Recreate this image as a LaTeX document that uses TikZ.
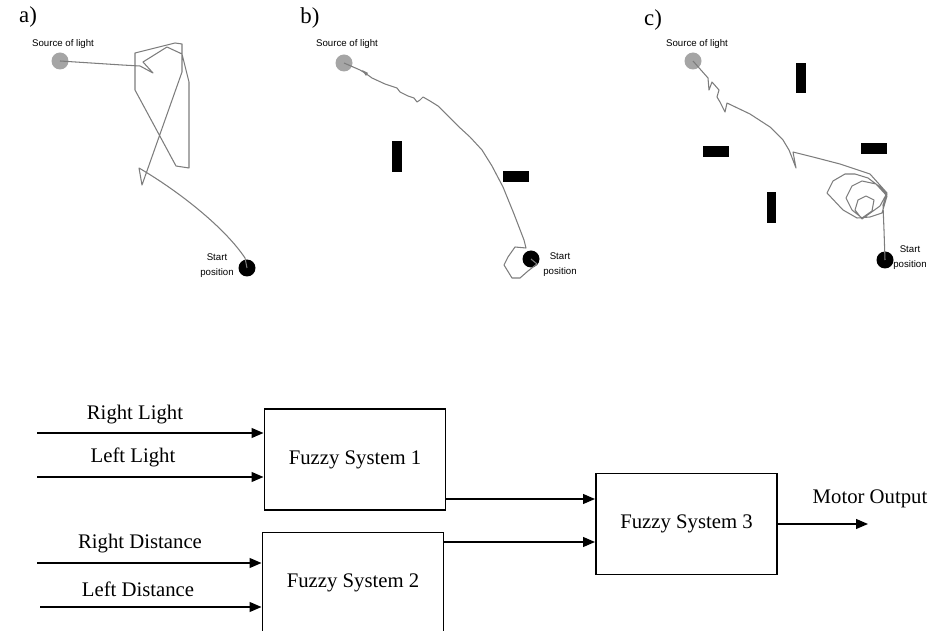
\documentclass[tikz,border=0pt]{standalone}
\usepackage{fontspec}
\setmainfont{Liberation Serif}
\setsansfont{Liberation Sans}
\usetikzlibrary{arrows.meta}
\definecolor{trailgray}{RGB}{125,125,125}
\definecolor{lampgray}{RGB}{165,165,165}

\begin{document}
\begin{tikzpicture}[x=0.02cm,y=-0.02cm,
  box/.style={draw,line width=.85pt,minimum width=3.63cm,minimum height=2.03cm,inner sep=0pt,font=\fontsize{11.8}{14}\selectfont},
  lbl/.style={font=\fontsize{11.8}{14}\selectfont,inner sep=0pt},
  sig/.style={line width=.85pt,-{Triangle[length=6.8pt,width=5.6pt]}},
  tiny/.style={font=\sffamily\fontsize{5.5}{8.5}\selectfont,inner sep=0pt,align=center},
  panel/.style={font=\fontsize{13}{15}\selectfont,inner sep=0pt},
  lamp/.style={circle,fill=lampgray,minimum size=0.34cm,inner sep=0pt},
  robot/.style={circle,fill=black,minimum size=0.34cm,inner sep=0pt},
  trail/.style={draw=trailgray,line width=.6pt,line join=round},
  wall/.style={fill=black}]
\useasboundingbox (0,0) rectangle (944,631);

% a)
\node[panel] (pa) at (28,17) {a)};
\node[lamp] (lampa) at (60,61) {};
\node[tiny] (srca) at (63,44) {Source of light};
\node[robot] (robota) at (247,268) {};
\node[tiny] (starta) at (217,266) {Start\\position};
\draw[trail] (robota.center) -- (245,258) .. controls (225,228) and (180,192) .. (139,168)
  -- (142,185) -- (182,72) -- (182,44) -- (175,43) -- (135,53) -- (135,90) -- (176,166)
  -- (189,168) -- (189,82) -- (182,54) -- (167,47) -- (143,62) -- (153,73) -- (140,66)
  -- (122,65) -- (lampa.center);

% b)
\node[panel] (pb) at (310,18) {b)};
\node[lamp] (lampb) at (344,63) {};
\node[tiny] (srcb) at (347,44) {Source of light};
\node[robot] (robotb) at (531,259) {};
\node[tiny] (startb) at (560,265) {Start\\position};
\fill[wall] (392,141) rectangle (402,172);
\fill[wall] (503,171) rectangle (529,182);
\draw[trail] (robotb.center) -- (537,264) -- (528,271) -- (520,278) -- (512,278) -- (504,265)
  -- (508,257) -- (515,247) -- (526,248) -- (524,240) -- (514,214) -- (503,187) -- (492,166)
  -- (482,150) -- (470,137) -- (458,126) -- (448,116) -- (438,106) -- (430,101) -- (423,97)
  -- (420,100) -- (417,102) -- (414,98) -- (408,96) -- (400,92) -- (397,88) -- (385,84)
  -- (372,78) -- (365,73) -- (360,70) -- (lampb.center);
\fill[trailgray] (362,70) -- (368,73) -- (366,76) -- cycle;

% c)
\node[panel] (pc) at (653,20) {c)};
\node[lamp] (lampc) at (693,61) {};
\node[tiny] (srcc) at (697,44) {Source of light};
\node[robot] (robotc) at (885,260) {};
\node[tiny] (startc) at (910,258) {Start\\position};
\fill[wall] (796,63) rectangle (806,93);
\fill[wall] (703,146) rectangle (729,157);
\fill[wall] (861,143) rectangle (887,154);
\fill[wall] (767,192) rectangle (776,223);
\draw[trail] (robotc.center) -- (884,230) -- (883,205) -- (887,194) -- (880,187) -- (868,178)
  -- (855,174) -- (845,174) -- (833,181) -- (827,193) -- (843,210) -- (857,218) -- (870,217)
  -- (882,213) -- (887,196) -- (876,184) -- (862,181) -- (852,186) -- (846,198) -- (852,210)
  -- (862,218) -- (872,211) -- (874,200) -- (866,196) -- (858,200) -- (855,210) -- (862,219)
  -- (880,206) -- (887,193) -- (870,174) -- (840,164) -- (813,157) -- (793,152) -- (796,168)
  -- (791,155) -- (789,150) -- (783,140) -- (770,127) -- (750,114) -- (727,103) -- (725,112)
  -- (720,102) -- (717,97) -- (719,90) -- (712,82) -- (709,90) -- (708,78) -- (lampc.center);

% fuzzy controller
\node[box] (fs1) at (355,459.5) {Fuzzy System 1};
\node[box] (fs2) at (353,583) {Fuzzy System 2};
\node[box] (fs3) at (686.5,524) {Fuzzy System 3};

\coordinate (rl) at (37,433);
\coordinate (ll) at (37,477);
\coordinate (rd) at (37,563);
\coordinate (ld) at (40,607);
\draw[sig] (rl) -- (rl -| fs1.west);
\draw[sig] (ll) -- (ll -| fs1.west);
\draw[sig] (rd) -- (rd -| fs2.west);
\draw[sig] (ld) -- (ld -| fs2.west);
\node[lbl] (rltxt) at (135,415) {Right Light};
\node[lbl] (lltxt) at (133,457) {Left Light};
\node[lbl] (rdtxt) at (140,544) {Right Distance};
\node[lbl] (ldtxt) at (138,589) {Left Distance};

\coordinate (o1) at (446,499);
\coordinate (o2) at (444,542);
\draw[sig] (o1) -- (o1 -| fs3.west);
\draw[sig] (o2) -- (o2 -| fs3.west);
\coordinate (mo) at (868,524);
\draw[sig] (fs3.east) -- (mo);
\node[lbl] (motxt) at (870,499) {Motor Output};
\end{tikzpicture}
\end{document}
